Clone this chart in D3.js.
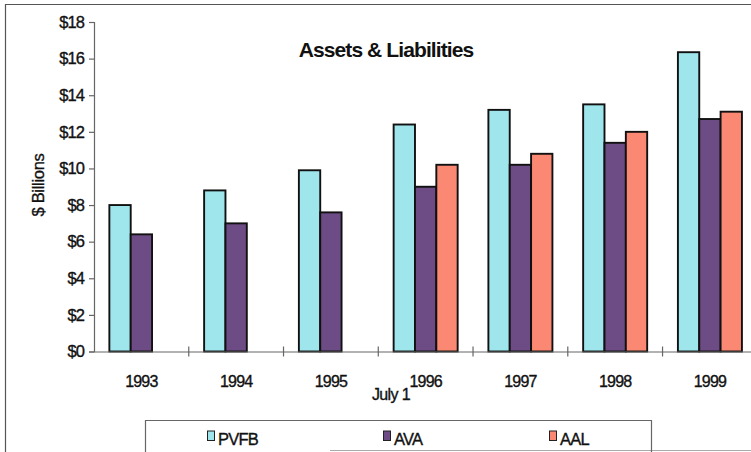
<!DOCTYPE html>
<html>
<head>
<meta charset="utf-8">
<script src="https://cdn.jsdelivr.net/npm/d3@7/dist/d3.min.js"></script>
<style>
  html, body { margin: 0; padding: 0; background: #fff; }
  svg { display: block; font-family: "Liberation Sans", Arial, sans-serif; }
  .lbl { stroke: #111; stroke-width: 0.35px; paint-order: stroke; }
</style>
</head>
<body>
<svg id="chart" width="751" height="452"></svg>
<script>
// Plan years (July 1 valuation) and the three series, in $ billions
const years = ["1993", "1994", "1995", "1996", "1997", "1998", "1999"];
const seriesNames = ["PVFB", "AVA", "AAL"];
const pvfb = [8.0, 8.8, 9.9, 12.4, 13.2, 13.5, 16.35];
const ava  = [6.4, 7.0, 7.6, 9.0, 10.2, 11.4, 12.7];
const aal  = [null, null, null, 10.2, 10.8, 12.0, 13.1];
const yTicks = [0, 2, 4, 6, 8, 10, 12, 14, 16, 18];

const colors = { PVFB: "#9fe5ec", AVA: "#6d4b84", AAL: "#fa8872" };
const valuesBySeries = { PVFB: pvfb, AVA: ava, AAL: aal };

const svg = d3.select("#chart");

// Plot area (runs slightly past the right edge of the page)
const plot = { left: 94, right: 757.3, top: 22, bottom: 351.5 };

const x = d3.scaleBand().domain(years).range([plot.left, plot.right]).padding(0);
const x1 = d3.scaleBand().domain(seriesNames).range([0, x.bandwidth()])
  .paddingInner(0).paddingOuter(0.72);
const y = d3.scaleLinear().domain([0, 18]).range([plot.bottom, plot.top]);

// Outer frame
svg.append("line").attr("x1", 5.5).attr("x2", 5.5).attr("y1", 4).attr("y2", 452)
  .attr("stroke", "#555").attr("stroke-width", 1.2);
svg.append("line").attr("x1", 5).attr("x2", 751).attr("y1", 4.5).attr("y2", 4.5)
  .attr("stroke", "#555").attr("stroke-width", 1.2);
svg.append("line").attr("x1", 330).attr("x2", 751).attr("y1", 450.5).attr("y2", 450.5)
  .attr("stroke", "#aaa").attr("stroke-width", 1);

// Title
svg.append("text").attr("x", 386).attr("y", 57).attr("text-anchor", "middle")
  .attr("font-size", 21).attr("font-weight", "bold").attr("letter-spacing", -0.9)
  .attr("fill", "#111").text("Assets & Liabilities");

// Bars
const rows = years.map((yr, i) => ({
  year: yr,
  values: seriesNames.map(s => ({ key: s, value: valuesBySeries[s][i] }))
    .filter(d => d.value !== null)
}));

const groups = svg.append("g").selectAll("g").data(rows).join("g")
  .attr("transform", d => `translate(${x(d.year)},0)`);
groups.selectAll("rect").data(d => d.values).join("rect")
  .attr("x", d => x1(d.key))
  .attr("y", d => y(d.value))
  .attr("width", x1.bandwidth())
  .attr("height", d => y(0) - y(d.value))
  .attr("fill", d => colors[d.key])
  .attr("stroke", "#111").attr("stroke-width", 1.9);

// Y axis
const yAxis = svg.append("g").attr("transform", `translate(${plot.left},0)`)
  .call(d3.axisLeft(y).tickValues(yTicks).tickFormat(d => "$" + d).tickSize(5).tickPadding(5));
yAxis.select(".domain").attr("stroke", "#666").attr("stroke-width", 1.2);
yAxis.selectAll(".tick line").attr("stroke", "#666").attr("stroke-width", 1.2);
yAxis.selectAll(".tick text").attr("class", "lbl").attr("font-size", 16.5).attr("letter-spacing", -0.9)
  .attr("fill", "#111").attr("font-family", "Liberation Sans, Arial, sans-serif");

// X axis: baseline, labels under each group, ticks on the group boundaries
const xAxis = svg.append("g").attr("transform", `translate(0,${plot.bottom})`)
  .call(d3.axisBottom(x).tickSize(0).tickPadding(24));
xAxis.select(".domain").attr("stroke", "#666").attr("stroke-width", 1.2);
xAxis.selectAll(".tick text").attr("class", "lbl").attr("font-size", 16).attr("letter-spacing", -0.8)
  .attr("fill", "#111").attr("font-family", "Liberation Sans, Arial, sans-serif");
svg.append("g").selectAll("line").data(years.slice(1)).join("line")
  .attr("x1", d => x(d)).attr("x2", d => x(d))
  .attr("y1", plot.bottom - 5).attr("y2", plot.bottom + 5)
  .attr("stroke", "#666").attr("stroke-width", 1.2);

// Axis titles
svg.append("text").attr("class", "lbl").attr("x", 391).attr("y", 400).attr("text-anchor", "middle")
  .attr("font-size", 16).attr("letter-spacing", -0.6).attr("fill", "#111").text("July 1");
svg.append("text").attr("class", "lbl").attr("transform", "translate(44,185) rotate(-90)")
  .attr("text-anchor", "middle").attr("font-size", 16.5).attr("letter-spacing", -0.3)
  .attr("fill", "#111").text("$ Billions");

// Legend
const legend = svg.append("g");
legend.append("path").attr("d", "M145.5,452 V420.5 H651.5 V452")
  .attr("fill", "none").attr("stroke", "#666").attr("stroke-width", 1.2);
const legendX = { PVFB: 207, AVA: 383, AAL: 549 };
const items = legend.selectAll("g.item").data(seriesNames).join("g")
  .attr("class", "item").attr("transform", d => `translate(${legendX[d]},0)`);
items.append("rect").attr("x", 0.5).attr("y", 431).attr("width", 7).attr("height", 9.5)
  .attr("fill", d => colors[d]).attr("stroke", "#222").attr("stroke-width", 1);
items.append("text").attr("class", "lbl").attr("x", 11).attr("y", 444.5).attr("font-size", 16.5)
  .attr("letter-spacing", -0.8).attr("fill", "#111").text(d => d);
</script>
</body>
</html>
